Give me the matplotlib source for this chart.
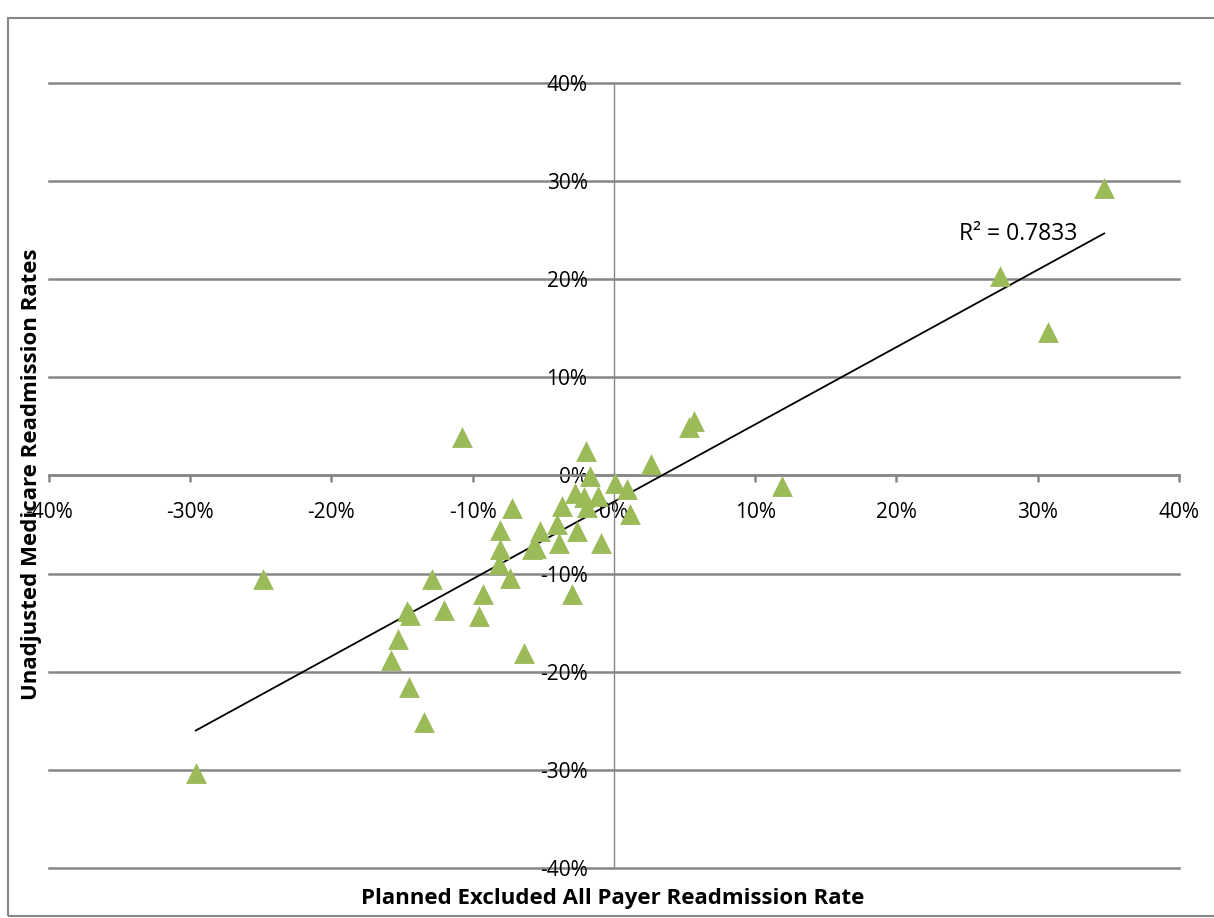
import numpy as np
import matplotlib
matplotlib.use("Agg")
import matplotlib.pyplot as plt
from matplotlib.patches import Rectangle
from matplotlib.ticker import FuncFormatter, MultipleLocator

# Planned Excluded All Payer Readmission Rate (x, %)
all_payer = [34.7, 27.3, 30.7, 11.9, 5.7, 5.3, 2.65, -10.75, -1.95, -1.66,
             0.05, 0.93, -2.72, -2.14, -1.15, -7.2, -3.7, -1.9, 1.17, -8.03,
             -4.02, -2.6, -5.2, -8.03, -0.91, -8.1, -7.37, -5.8, -3.9, -2.97,
             -9.27, -5.5, -12.87, -14.64, -14.4, -12.0, -9.57, -15.3, -15.77, -14.5,
             -13.46, -6.38, -24.86, -29.6]
# Unadjusted Medicare Readmission Rates (y, %)
medicare = [29.3, 20.3, 14.6, -1.1, 5.6, 4.9, 1.2, 3.95, 2.5, -0.1,
            -0.75, -1.35, -1.75, -2.15, -2.05, -3.3, -3.1, -3.2, -3.9, -5.55,
            -4.97, -5.65, -5.7, -7.5, -6.9, -9.0, -10.4, -7.5, -6.85, -12.1,
            -12.1, -7.4, -10.6, -13.8, -14.2, -13.7, -14.3, -16.7, -18.8, -21.6,
            -25.1, -18.1, -10.6, -30.3]
r2_label = "R² = 0.7833"

x = np.array(all_payer) / 100
y = np.array(medicare) / 100

plt.rcParams['font.family'] = ['Open Sans', 'DejaVu Sans']
grey = '#868686'

fig = plt.figure(figsize=(12.14, 9.18), dpi=100)
ax = fig.add_axes([0.0402, 0.0545, 0.931, 0.8551])

# rahmen um das diagramm (rechts offen, wie im bild)
fig.patches.append(Rectangle((0.0066, 0.002), 1.0, 0.9784, transform=fig.transFigure,
                             fill=False, edgecolor=grey, linewidth=1.5))

ax.set_xlim(-0.4, 0.4)
ax.set_ylim(-0.4, 0.4)
ax.xaxis.set_major_locator(MultipleLocator(0.1))
ax.yaxis.set_major_locator(MultipleLocator(0.1))
pct = FuncFormatter(lambda v, p: f"{v * 100:.0f}%")
ax.xaxis.set_major_formatter(pct)
ax.yaxis.set_major_formatter(pct)

ax.spines['left'].set_position(('data', 0))
ax.spines['bottom'].set_position(('data', 0))
ax.spines['top'].set_visible(False)
ax.spines['right'].set_visible(False)
ax.spines['left'].set_color(grey)
ax.spines['bottom'].set_color(grey)
ax.spines['left'].set_linewidth(1.0)
ax.spines['bottom'].set_linewidth(1.8)
ax.tick_params(axis='both', colors=grey, labelcolor='black', labelsize=15,
               direction='out', length=5)
ax.tick_params(axis='x', width=1.8, pad=14)
ax.tick_params(axis='y', pad=14)
ax.yaxis.grid(True, color=grey, linewidth=1.8)
for gl in ax.get_ygridlines():
    gl.set_clip_on(False)
ax.set_axisbelow(True)

# trendlinie
k, d = np.polyfit(x, y, 1)
xs = np.array([x.min(), x.max()])
ax.plot(xs, k * xs + d, color='black', linewidth=1.3, zorder=3)

ax.scatter(x, y, marker='^', s=225, color='#9BBB59', linewidths=0, zorder=4)

ax.text(0.286, 0.246, r2_label, fontsize=16.5, ha='center', va='center')

fig.text(0.505, 0.021, "Planned Excluded All Payer Readmission Rate",
         fontsize=16, fontweight='bold', ha='center', va='center')
fig.text(0.026, 0.483, "Unadjusted Medicare Readmission Rates",
         fontsize=16, fontweight='bold', rotation=90, ha='center', va='center')

fig.savefig("out.png", dpi=100)
